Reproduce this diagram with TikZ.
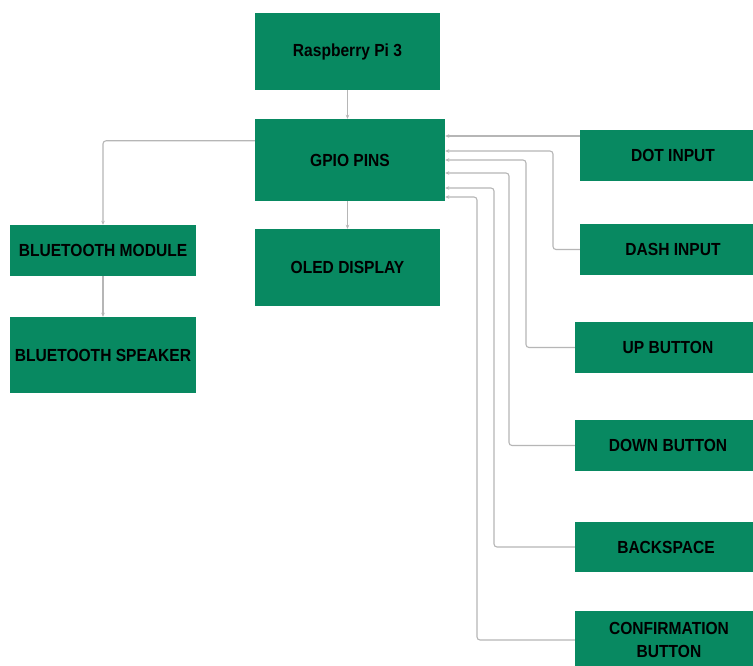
\documentclass[tikz,border=0pt]{standalone}
\usepackage{fontspec}
\setmainfont{Liberation Sans}[BoldFeatures={FakeStretch=0.89}]
\usetikzlibrary{arrows.meta,calc}
\definecolor{boxgreen}{RGB}{8,137,97}
\definecolor{lineg}{RGB}{182,182,182}
\begin{document}
\begin{tikzpicture}[x=1pt,y=-1pt,
  box/.style={fill=boxgreen,draw=none,inner sep=0pt,align=center,text=black,
    font=\fontsize{17.5}{23}\selectfont\bfseries},
  conn/.style={draw=lineg,line width=1.1pt,rounded corners=3pt,
    -{Stealth[length=4pt,width=3.5pt]}}]
\useasboundingbox (0,0) rectangle (753,666);
\clip (0,0) rectangle (753,666);
\fill[white] (0,0) rectangle (753,666);
% left / centre column
\node[box,minimum width=185,minimum height=77] (rpi)  at (347.5,51.5) {Raspberry Pi 3};
\node[box,minimum width=190,minimum height=82] (gpio) at (350,160) {GPIO PINS};
\node[box,minimum width=185,minimum height=77] (oled) at (347.5,267.5) {OLED DISPLAY};
\node[box,minimum width=186,minimum height=51] (btm)  at (103,250.5) {BLUETOOTH MODULE};
\node[box,minimum width=186,minimum height=76] (bts)  at (103,355) {BLUETOOTH SPEAKER};
% right column (boxes run past the right edge of the picture)
\node[box,minimum width=186,minimum height=51] (dot)  at (673,155.5) {DOT INPUT};
\node[box,minimum width=186,minimum height=51] (dash) at (673,249.5) {DASH INPUT};
\node[box,minimum width=186,minimum height=51] (up)   at (668,347.5) {UP BUTTON};
\node[box,minimum width=186,minimum height=51] (down) at (668,445.5) {DOWN BUTTON};
\node[box,minimum width=182,minimum height=50] (back) at (666,547) {BACKSPACE};
\node[box,minimum width=188,minimum height=58] (conf) at (669,640) {CONFIRMATION\\BUTTON};
% connectors
\draw[conn] (rpi.south) -- (rpi.south |- gpio.north);
\draw[conn] (oled.north |- gpio.south) -- (oled.north);
\coordinate (gl) at ($(gpio.north west)+(0,22)$);
\draw[conn] (gl) -| (btm.north);
\draw[conn] (btm.south) -- (bts.north);
% inputs into GPIO
\coordinate (g1) at (gpio.east |- 0,136);
\coordinate (g2) at (gpio.east |- 0,151);
\coordinate (g3) at (gpio.east |- 0,160);
\coordinate (g4) at (gpio.east |- 0,173);
\coordinate (g5) at (gpio.east |- 0,188);
\coordinate (g6) at (gpio.east |- 0,197);
\draw[conn] (dot.west |- g1) -- (g1);
\draw[conn] (dash.west) -| (553,151) -- (g2);
\draw[conn] (up.west) -| (526,160) -- (g3);
\draw[conn] (down.west) -| (509,173) -- (g4);
\draw[conn] (back.west) -| (494,188) -- (g5);
\draw[conn] (conf.west) -| (477,197) -- (g6);
\end{tikzpicture}
\end{document}
